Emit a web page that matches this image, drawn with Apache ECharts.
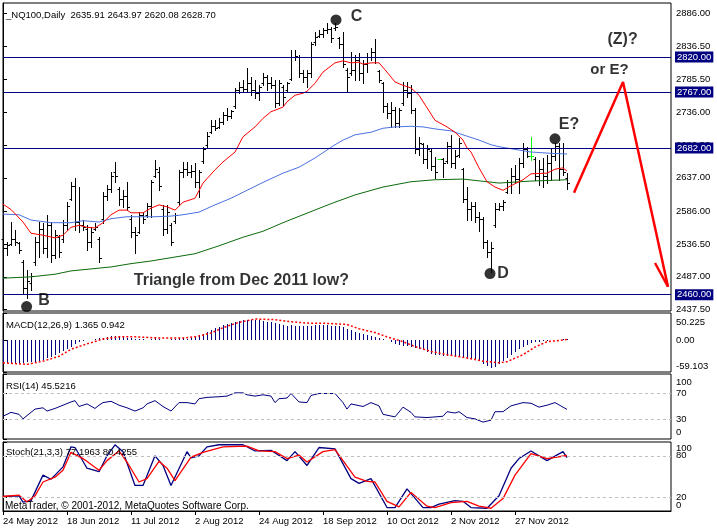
<!DOCTYPE html>
<html><head><meta charset="utf-8">
<script src="https://cdn.jsdelivr.net/npm/echarts@6/dist/echarts.min.js"></script>
<style>html,body{margin:0;padding:0;background:#fff}#c{width:717px;height:532px}</style>
</head><body><div id="c"></div>
<script>
// ---------- DATA ----------
const dateTicks = ['24 May 2012','18 Jun 2012','11 Jul 2012','2 Aug 2012','24 Aug 2012','18 Sep 2012','10 Oct 2012','2 Nov 2012','27 Nov 2012'];
const dateTickIdx = [0,16,32,48,64,80,96,112,128];
const priceTicks = [2886,2836.5,2785.5,2736,2686.5,2637,2586,2536.5,2487,2437.5];
const levels = [2820,2767,2682,2460];
const lastPrice = 2628.70;

const opens = [2545,2530,2537,2545,2538,2510,2470,2478,2510,2540,2560,2530,2565,2520,2548,2545,2565,2605,2625,2570,
2565,2560,2540,2560,2545,2575,2610,2620,2645,2620,2605,2610,2575,2555,2555,2580,2580,2595,2640,2645,
2590,2560,2565,2572,2600,2645,2650,2645,2648,2630,2662,2686,2707,2715,2714,2722,2732,2730,2745,2770,
2775,2772,2780,2770,2765,2780,2790,2780,2778,2750,2775,2770,2787,2820,2820,2795,2790,2795,2842,2852,
2855,2860,2862,2863,2848,2840,2800,2795,2800,2815,2795,2810,2820,2828,2798,2780,2745,2735,2740,2720,
2750,2770,2765,2740,2680,2688,2665,2678,2655,2665,2665,2662,2685,2660,2672,2650,2605,2590,2595,2578,
2575,2540,2525,2565,2590,2595,2616,2630,2640,2635,2660,2680,2670,2665,2640,2650,2640,2660,2670,2685,
2650,2635.91];
const highs = [2555,2540,2570,2558,2540,2513,2497,2493,2547,2570,2569,2581,2570,2558,2550,2573,2600,2631,2636,2623,
2573,2566,2562,2569,2547,2616,2626,2646,2661,2623,2618,2631,2581,2562,2585,2584,2599,2634,2664,2653,
2596,2596,2569,2584,2649,2661,2661,2656,2659,2649,2684,2706,2724,2724,2727,2737,2743,2740,2773,2782,
2785,2803,2790,2785,2777,2796,2793,2790,2785,2785,2777,2782,2830,2830,2823,2800,2800,2843,2858,2861,
2864,2871,2865,2872,2850,2858,2803,2827,2823,2826,2815,2826,2833,2847,2800,2782,2750,2752,2744,2743,
2782,2782,2777,2743,2699,2690,2687,2682,2668,2665,2667,2691,2702,2679,2697,2652,2623,2600,2600,2585,
2578,2543,2540,2599,2599,2603,2634,2652,2656,2667,2690,2684,2699,2668,2664,2667,2671,2682,2690,2690,
2690,2643.97];
const lows = [2513,2520,2535,2535,2523,2463,2455,2467,2505,2517,2523,2517,2510,2516,2517,2540,2558,2603,2558,2555,
2558,2528,2532,2558,2510,2569,2603,2616,2631,2596,2593,2588,2547,2523,2553,2569,2578,2578,2638,2618,
2550,2553,2535,2569,2596,2638,2641,2638,2623,2608,2659,2684,2705,2709,2712,2718,2724,2728,2743,2765,
2767,2767,2762,2758,2755,2777,2770,2773,2744,2747,2747,2767,2785,2815,2790,2782,2774,2790,2838,2850,
2850,2856,2843,2861,2833,2805,2767,2793,2785,2785,2780,2797,2815,2811,2782,2737,2727,2714,2714,2714,
2747,2759,2735,2675,2672,2659,2652,2649,2637,2665,2638,2659,2653,2652,2668,2600,2573,2573,2570,2556,
2531,2517,2495,2563,2588,2588,2614,2614,2629,2614,2653,2668,2664,2634,2626,2623,2629,2634,2664,2634,
2641,2620.08];
const closes = [2530,2535,2545,2540,2528,2470,2480,2488,2540,2560,2530,2565,2520,2550,2525,2565,2595,2625,2570,2565,
2562,2540,2555,2562,2515,2610,2620,2640,2640,2605,2610,2592,2555,2550,2580,2575,2595,2630,2650,2625,
2560,2585,2540,2580,2645,2650,2645,2648,2630,2645,2680,2700,2715,2712,2722,2732,2730,2738,2770,2775,
2772,2780,2770,2765,2775,2790,2780,2778,2750,2780,2760,2780,2820,2822,2795,2790,2795,2840,2850,2855,
2860,2862,2848,2865,2840,2810,2790,2800,2815,2795,2810,2820,2828,2820,2785,2745,2735,2740,2720,2740,
2770,2765,2740,2680,2690,2665,2680,2655,2645,2665,2660,2685,2660,2670,2690,2605,2590,2595,2578,2575,
2540,2525,2530,2590,2595,2600,2630,2640,2635,2660,2680,2670,2670,2640,2650,2640,2660,2670,2685,2650,
2645,2628.70];

// moving averages: [bar index, value]
const maRed = [[0,2597],[2,2589],[5,2570],[7,2553],[10,2550],[13,2546],[15,2550],[17,2562],[19,2565],[21,2562],[23,2561],[25,2569],[27,2581],[29,2588],[31,2588],[32,2584],[35,2584],[37,2591],[39,2596],[41,2593],[43,2588],[45,2600],[48,2606],[50,2629],[53,2649],[55,2661],[58,2676],[60,2699],[63,2714],[65,2727],[67,2737],[70,2744],[71,2752],[73,2762],[75,2765],[76,2768],[78,2780],[80,2797],[83,2811],[85,2814],[87,2811],[89,2812],[90,2809],[92,2811],[94,2811],[96,2797],[98,2782],[100,2777],[102,2773],[104,2762],[106,2743],[108,2724],[111,2714],[113,2706],[115,2694],[116,2682],[117,2676],[119,2652],[121,2631],[123,2623],[125,2618],[127,2625],[130,2634],[132,2643],[136,2644],[138,2650],[140,2652],[141,2647]];
const maBlue = [[0,2582],[4,2581],[7,2573],[12,2569],[17,2569],[20,2572],[24,2570],[27,2575],[31,2578],[35,2578],[38,2578],[42,2579],[45,2581],[49,2585],[53,2596],[57,2606],[61,2618],[65,2630],[70,2644],[74,2653],[78,2667],[83,2687],[85,2694],[88,2702],[92,2706],[95,2712],[98,2714],[102,2715],[105,2714],[108,2711],[112,2708],[115,2702],[119,2694],[122,2687],[124,2684],[127,2681],[132,2676],[137,2674],[141,2673]];
const maGreen = [[0,2485],[7,2487],[13,2491],[17,2496],[22,2499],[27,2502],[32,2507],[37,2511],[42,2516],[48,2522],[54,2534],[60,2547],[65,2556],[70,2569],[75,2581],[80,2593],[83,2600],[88,2611],[95,2623],[102,2631],[108,2634],[115,2635],[121,2631],[124,2629],[132,2632],[141,2634]];

const macdHist = [-42,-42,-43,-43,-42,-42,-41,-40,-40,-39,-37,-34,-31,-28,-24,-20,-16,-12,-7,-3,
-1,0,1,2,3,4,5,7,8,7,6,4,3,2,2,2,1,2,3,2,
1,1,2,2,3,3,2,3,6,9,12,15,19,22,25,28,30,32,34,36,
38,38,37,38,37,36,34,33,31,29,28,27,28,27,26,27,26,27,28,28,
28,28,27,27,26,24,21,18,15,13,11,9,7,6,4,2,0,-3,-7,-9,
-10,-11,-12,-14,-16,-19,-22,-25,-27,-28,-29,-30,-30,-30,-31,-32,-33,-35,-37,-39,
-44,-48,-52,-50,-44,-39,-33,-27,-22,-17,-12,-9,-6,-4,-3,-2,-1,0,0,1,
1.5,1.365];
const macdSignal = [[0,-42],[6,-45],[10,-39],[14,-30],[17,-17],[21,-7],[25,2],[29,6],[33,6],[39,4],[45,4],[48,6],[52,13],[55,23],[59,33],[63,39],[68,38],[72,34],[77,31],[81,31],[86,29],[89,21],[93,14],[96,6],[100,-3],[103,-12],[107,-21],[111,-27],[116,-33],[120,-39],[124,-42],[126,-40],[130,-27],[133,-13],[136,-3],[141,0.942]];
const macdMax = 50.225, macdMin = -59.103;

const rsi = [[0,35],[2,41],[4,38],[5,31],[6,36],[8,46],[10,48],[11,43],[13,47],[15,52],[17,57],[18,59],[19,50],[21,54],[23,47],[24,52],[25,56],[27,58],[29,52],[31,48],[33,43],[35,48],[36,54],[38,59],[40,50],[42,43],[44,56],[46,56],[48,54],[49,62],[51,64],[54,65],[56,66],[58,71],[60,71],[61,68],[63,66],[65,68],[67,66],[68,56],[69,62],[71,63],[72,70],[74,57],[76,56],[77,67],[79,70],[83,70],[85,56],[86,46],[87,54],[90,50],[92,56],[94,51],[95,38],[98,34],[100,49],[102,41],[103,34],[106,33],[110,35],[111,42],[113,40],[114,42],[116,33],[118,31],[120,26],[122,29],[123,42],[125,42],[127,51],[130,56],[132,55],[134,49],[136,52],[138,56],[141,45.52]];
const stochK = [[0,21],[4,22],[5,13],[7,15],[10,52],[12,46],[13,52],[15,64],[17,93],[18,92],[21,62],[24,57],[26,80],[28,96],[30,86],[33,37],[35,37],[38,80],[40,66],[42,37],[46,86],[47,77],[49,80],[51,93],[54,96],[60,96],[63,87],[67,88],[71,73],[73,86],[76,66],[79,92],[83,90],[87,47],[89,40],[92,47],[96,5],[98,5],[101,32],[105,5],[107,5],[109,10],[113,15],[115,14],[117,5],[121,4],[124,22],[127,62],[129,76],[132,87],[136,73],[140,86],[141,77.2]];
const stochD = [[0,21],[4,23],[6,13],[8,22],[10,42],[13,49],[15,59],[17,85],[20,76],[24,59],[26,73],[29,87],[31,71],[34,42],[36,47],[39,72],[41,62],[43,44],[47,78],[50,85],[55,93],[61,94],[64,87],[68,86],[71,76],[74,81],[76,71],[80,86],[83,89],[88,49],[91,43],[93,42],[96,14],[99,6],[102,27],[106,7],[108,5],[112,12],[116,14],[119,7],[122,4],[125,18],[128,52],[132,83],[136,76],[141,80.43]];

// annotations (anchored in data space)
const dots = [[5.9,2442],[83.25,2876],[121.75,2492],[138,2696]];
const notes = [['B',10.25,2450.5,16],['C',88.4,2880.4,16],['D',125,2491.3,16],['E?',141.5,2718,16],['(Z)?',154.9,2845.6,16],['or E?',151.6,2800,15],['Triangle from Dec 2011 low?',59.6,2480.8,16]];
const zigzag = [[142.75,2614.4],[155,2782],[166.25,2472]];
const arrowHead = [[163,2508],[166.25,2472]];

// ---------- CHART ----------
const F = 'Liberation Sans';
const chart = echarts.init(document.getElementById('c'));
const GL = 3, GW = 668;
const grids = [
  {left:GL, width:GW, top:3, height:308},
  {left:GL, width:GW, top:313, height:59},
  {left:GL, width:GW, top:374, height:65},
  {left:GL, width:GW, top:442, height:69}
].map(g => Object.assign(g, {show:true, borderColor:'#000', borderWidth:1, backgroundColor:'#fff'}));

function xAx(i, show){
  return {type:'value', gridIndex:i, min:0, max:167, show:show, splitLine:{show:false},
    axisLine:{show:show, onZero:false, lineStyle:{color:'#000'}},
    axisTick:{show:show, customValues:dateTickIdx, length:4, lineStyle:{color:'#000'}},
    axisLabel:{show:show, customValues:dateTickIdx, formatter:v=>dateTicks[dateTickIdx.indexOf(v)]||'',
      align:'left', margin:5, color:'#000', fontSize:9.5, fontFamily:F}};
}
// main axis: line + ticks + middle labels
function yAx(i, min, max, tickVals, labelVals, fmt){
  return {type:'value', gridIndex:i, position:'right', min:min, max:max, splitLine:{show:false},
    axisLine:{show:true, lineStyle:{color:'#000'}},
    axisTick:{show:true, customValues:tickVals, length:4, lineStyle:{color:'#000'}},
    axisLabel:{customValues:labelVals, formatter:fmt, margin:5, color:'#000', fontSize:9.5, fontFamily:F}};
}
// companion axis: only the edge labels, drawn inside the panel height like the terminal does
function yEdge(i, min, max, fmt, tPad, bPad){
  return {type:'value', gridIndex:i, position:'right', min:min, max:max, splitLine:{show:false},
    axisLine:{show:false}, axisTick:{show:false},
    axisLabel:{customValues:[max,min], formatter:v=> v===max?'{t|'+fmt(v)+'}':'{b|'+fmt(v)+'}', margin:5, color:'#000', fontSize:9.5, fontFamily:F,
      rich:{t:{padding:[tPad,0,0,0], fontSize:9.5, fontFamily:F, color:'#000'}, b:{padding:[0,0,bPad,0], fontSize:9.5, fontFamily:F, color:'#000'}}}};
}

const ohlcData = opens.map((o,i)=>[i,o,highs[i],lows[i],closes[i]]);
const levelLabel = (bg)=>({show:true, position:'end', distance:4, formatter:p=>p.value.toFixed(2),
   backgroundColor:bg, color:'#fff', fontSize:9.5, fontFamily:F, padding:[1,2,0,2], lineHeight:10});

const option = {
  animation:false,
  backgroundColor:'#fff',
  grid: grids,
  xAxis:[xAx(0,false), xAx(1,false), xAx(2,false), xAx(3,true)],
  yAxis:[
    yAx(0, 2435.3, 2901.6, priceTicks, priceTicks, v=>v.toFixed(2)),
    yAx(1, macdMin, macdMax, [macdMax,0,macdMin], [0], v=>'0.00'),
    yAx(2, 0, 100, [100,70,30,0], [70,30], v=>String(v)),
    yAx(3, 0, 100, [100,80,20,0], [80,20], v=>String(v)),
    yEdge(1, macdMin, macdMax, v=> v===macdMax?'50.225':'-59.103', 18, 12),
    yEdge(2, 0, 100, v=>String(v), 16, 14),
    yEdge(3, 0, 100, v=>String(v), 12, 12)
  ],
  graphic:[
    {type:'text', left:6, top:10, z:100, style:{text:'_NQ100,Daily  2635.91 2643.97 2620.08 2628.70', font:'9.5px "Liberation Sans"', fill:'#000'}},
    {type:'text', left:6, top:320, z:100, style:{text:'MACD(12,26,9) 1.365 0.942', font:'9.5px "Liberation Sans"', fill:'#000'}},
    {type:'text', left:6, top:381, z:100, style:{text:'RSI(14) 45.5216', font:'9.5px "Liberation Sans"', fill:'#000'}},
    {type:'text', left:6, top:447, z:100, style:{text:'Stoch(21,3,3) 77.1963 80.4255', font:'9.5px "Liberation Sans"', fill:'#000'}},
    {type:'text', left:5, top:501, z:100, style:{text:'MetaTrader, \u00a9 2001-2012, MetaQuotes Software Corp.', font:'10px "Liberation Sans"', fill:'#000'}}
  ],
  series:[
    {type:'custom', name:'ohlc', xAxisIndex:0, yAxisIndex:0, data:ohlcData, encode:{x:0, y:[1,2,3,4]}, z:3,
     renderItem:function(params, api){
       const i=api.value(0), o=api.value(1), h=api.value(2), l=api.value(3), c=api.value(4);
       const ph=api.coord([i,h]), pl=api.coord([i,l]), po=api.coord([i,o]), pc=api.coord([i,c]);
       const x=Math.round(ph[0])+0.5, col = (o===c)?'#00ff00':'#000';
       const st={stroke:col, lineWidth:1};
       return {type:'group', children:[
         {type:'line', shape:{x1:x,y1:Math.round(ph[1]),x2:x,y2:Math.round(pl[1])+1}, style:st},
         {type:'line', shape:{x1:x-2,y1:Math.round(po[1])+0.5,x2:x,y2:Math.round(po[1])+0.5}, style:st},
         {type:'line', shape:{x1:x,y1:Math.round(pc[1])+0.5,x2:x+2.5,y2:Math.round(pc[1])+0.5}, style:st}
       ]};
     },
     markLine:{silent:true, symbol:['none','none'], animation:false,
       data:[
         ...levels.map(v=>({yAxis:v, lineStyle:{color:'#000080', width:1, type:'solid'}, label:levelLabel('#000080')})),
         {yAxis:lastPrice, lineStyle:{opacity:0}, label:levelLabel('#000')}
       ]}
    },
    {type:'line', xAxisIndex:0, yAxisIndex:0, data:maGreen, symbol:'none', lineStyle:{color:'#0b6b0b', width:1}, z:4},
    {type:'line', xAxisIndex:0, yAxisIndex:0, data:maBlue, symbol:'none', lineStyle:{color:'#4a72e0', width:1}, z:4},
    {type:'line', xAxisIndex:0, yAxisIndex:0, data:maRed, symbol:'none', lineStyle:{color:'#ff0000', width:1}, z:4},
    {type:'line', xAxisIndex:0, yAxisIndex:0, data:zigzag, symbol:'none', lineStyle:{color:'#ff0000', width:2.5}, z:5},
    {type:'line', xAxisIndex:0, yAxisIndex:0, data:arrowHead, symbol:'none', lineStyle:{color:'#ff0000', width:2.5}, z:5},
    {type:'scatter', xAxisIndex:0, yAxisIndex:0, data:dots, symbol:'circle', symbolSize:11, itemStyle:{color:'#000'}, z:6},
    {type:'scatter', xAxisIndex:0, yAxisIndex:0, z:6, symbolSize:1, itemStyle:{color:'rgba(0,0,0,0)'},
     data:notes.map(n=>({value:[n[1],n[2]], label:{show:true, position:'inside', formatter:n[0], color:'#000', fontWeight:'bold', fontSize:n[3], fontFamily:F}}))},
    {type:'custom', xAxisIndex:1, yAxisIndex:1, data:macdHist.map((v,i)=>[i,v]), encode:{x:0, y:1},
     renderItem:function(params, api){
       const i=api.value(0), v=api.value(1);
       const p0=api.coord([i,0]), p1=api.coord([i,v]);
       const x=Math.round(p0[0])+0.5;
       return {type:'line', shape:{x1:x,y1:Math.round(p0[1]),x2:x,y2:Math.round(p1[1])}, style:{stroke:'#000080', lineWidth:1}};
     }},
    {type:'line', xAxisIndex:1, yAxisIndex:1, data:macdSignal, symbol:'none', lineStyle:{color:'#ff0000', width:1.5, type:[2,2]}, z:4},
    {type:'line', xAxisIndex:2, yAxisIndex:2, data:rsi, symbol:'none', lineStyle:{color:'#000080', width:1},
     markLine:{silent:true, symbol:['none','none'], label:{show:false}, data:[{yAxis:70},{yAxis:30}], lineStyle:{color:'#c0c0c0', type:[3,3], width:1}}},
    {type:'line', xAxisIndex:3, yAxisIndex:3, data:stochK, symbol:'none', lineStyle:{color:'#000080', width:1.3},
     markLine:{silent:true, symbol:['none','none'], label:{show:false}, data:[{yAxis:80},{yAxis:20}], lineStyle:{color:'#c0c0c0', type:[3,3], width:1}}},
    {type:'line', xAxisIndex:3, yAxisIndex:3, data:stochD, symbol:'none', lineStyle:{color:'#ff0000', width:1.3}}
  ]
};
chart.setOption(option);
</script></body></html>
